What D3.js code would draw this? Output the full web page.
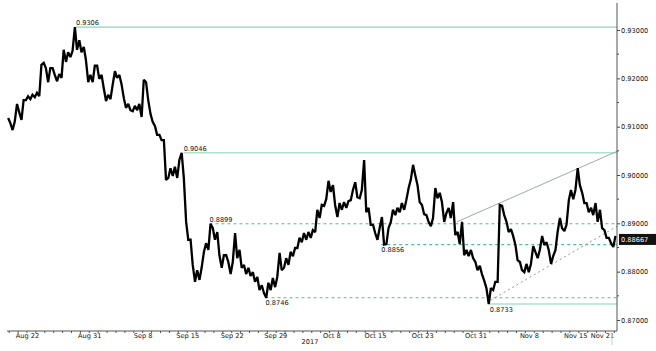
<!DOCTYPE html>
<html>
<head>
<meta charset="utf-8">
<script src="https://cdn.jsdelivr.net/npm/d3@7"></script>
<style>
  body { margin: 0; background: #fff; }
  svg { display: block; }
  text { font-family: "DejaVu Sans", Verdana, sans-serif; fill: #111; }
</style>
</head>
<body>
<div id="chart"></div>
<script>
// Sessions every half day, first one two days before Aug 22
const firstDay = -2;
const step = 0.5;

// High / low per session
const high = [
  .9118, .9110, .9147, .9155, .9163, .9166, .9170, .9228, .9232, .9221,
  .9221, .9209, .9259, .9254, .9257, .9306, .9279, .9265, .9207, .9226,
  .9226, .9207, .9166, .9186, .9215, .9207, .9159, .9147, .9143, .9147,
  .9197, .9192, .9126, .9101, .9083, .9072, .9014, .9017, .9031, .9046,
  .8903, .8866, .8803, .8808, .8859, .8899, .8890, .8882, .8834, .8834,
  .8820, .8880, .8845, .8814, .8808, .8799, .8789, .8772, .8777, .8787,
  .8789, .8839, .8828, .8841, .8849, .8870, .8880, .8882, .8886, .8928,
  .8938, .8950, .8988, .8979, .8942, .8944, .8946, .8969, .8985, .8969,
  .9031, .8932, .8897, .8890, .8913, .8890, .8928, .8932, .8942, .8948,
  .8990, .9021, .8979, .8938, .8917, .8911, .8973, .8963, .8921, .8932,
  .8944, .8882, .8903, .8845, .8845, .8820, .8812, .8781, .8766, .8779,
  .8938, .8936, .8903, .8888, .8855, .8820, .8816, .8816, .8853, .8845,
  .8874, .8861, .8832, .8882, .8911, .8897, .8969, .8969, .9014, .8963,
  .8942, .8932, .8942, .8928, .8886, .8870, .8874
];
const low = [
  .9108, .9093, .9130, .9114, .9155, .9157, .9161, .9163, .9221, .9192,
  .9207, .9194, .9201, .9234, .9244, .9259, .9254, .9238, .9192, .9192,
  .9199, .9180, .9153, .9157, .9201, .9188, .9139, .9134, .9132, .9134,
  .9120, .9155, .9110, .9083, .9072, .8990, .8994, .8998, .8994, .8994,
  .8866, .8814, .8779, .8783, .8841, .8845, .8866, .8834, .8808, .8820,
  .8795, .8828, .8808, .8795, .8791, .8779, .8762, .8756, .8746, .8762,
  .8768, .8803, .8808, .8814, .8832, .8849, .8861, .8866, .8870, .8882,
  .8911, .8936, .8965, .8938, .8913, .8928, .8932, .8948, .8954, .8952,
  .8923, .8897, .8880, .8866, .8856, .8857, .8903, .8917, .8923, .8928,
  .8973, .9000, .8944, .8919, .8903, .8894, .8952, .8944, .8903, .8911,
  .8876, .8857, .8834, .8832, .8828, .8803, .8795, .8766, .8733, .8762,
  .8779, .8917, .8882, .8874, .8824, .8803, .8799, .8799, .8841, .8828,
  .8855, .8845, .8816, .8845, .8890, .8884, .8948, .8950, .8979, .8942,
  .8923, .8917, .8903, .8890, .8870, .8859, .8851
];

// Horizontal levels
const levelValues = [0.9306, 0.9046, 0.8899, 0.8856, 0.8746, 0.8733];
const levelStart  = [5.5, 17.6, 20.5, 39.8, 26.8, 52.0];
const levelDashed = [false, false, true, true, true, false];
const levelBelow  = [false, false, false, true, true, true];

// Trend lines
const trendUpper = [[48.3, 0.8903], [66.3, 0.9049]];
const trendLower = [[52.1, 0.8741], [66.3, 0.8894]];

const lastPrice = 0.88667;

// Axis ticks
const tickDays   = [0, 7, 13, 18, 23, 27.9, 34.2, 39.1, 44.4, 50.4, 56.4, 61.6, 64.6];
const tickLabels = ['Aug 22', 'Aug 31', 'Sep 8', 'Sep 15', 'Sep 22', 'Sep 29',
                    'Oct 8', 'Oct 15', 'Oct 23', 'Oct 31', 'Nov 8', 'Nov 15', 'Nov 21'];
const priceTicks = [0.87, 0.88, 0.89, 0.90, 0.91, 0.92, 0.93];
const priceMinor = [0.875, 0.885, 0.895, 0.905, 0.915, 0.925];

const W = 656, H = 351;
const axisX = 617, axisY = 331;

const svg = d3.select('#chart').append('svg')
  .attr('width', W)
  .attr('height', H);

const x = d3.scaleLinear().domain([-2, 66]).range([9.2, 614.4]);
const y = d3.scaleLinear().domain([0.87, 0.93]).range([320, 30]);

// Level lines
levelValues.forEach((v, i) => {
  svg.append('line')
    .attr('x1', x(levelStart[i])).attr('x2', axisX)
    .attr('y1', y(v)).attr('y2', y(v))
    .attr('stroke', levelDashed[i] ? '#4fc09a' : '#ade0cf')
    .attr('stroke-width', levelDashed[i] ? 1.1 : 1.6)
    .attr('stroke-dasharray', levelDashed[i] ? '3,3' : null);
  svg.append('text')
    .attr('x', x(levelStart[i]))
    .attr('y', levelBelow[i] ? y(v) + 7.5 : y(v) - 2)
    .style('font-size', '6.6px')
    .text(v.toFixed(4));
});

// Trend lines
const tline = d3.line().x(d => x(d[0])).y(d => y(d[1]));
svg.append('path')
  .attr('d', tline(trendUpper))
  .attr('fill', 'none')
  .attr('stroke', '#9eaaa6')
  .attr('stroke-width', 1);
svg.append('path')
  .attr('d', tline(trendLower))
  .attr('fill', 'none')
  .attr('stroke', '#999')
  .attr('stroke-width', 1)
  .attr('stroke-dasharray', '2,3');

// Price path: zig-zag through each session's high and low
const pts = [];
high.forEach((h, i) => {
  const d = firstDay + i * step;
  const l = low[i];
  const mid = (h + l) / 2;
  const nextMid = i < high.length - 1 ? (high[i + 1] + low[i + 1]) / 2 : mid;
  const up = nextMid >= mid;
  pts.push([d - 0.12, up ? l : h]);
  pts.push([d + 0.12, up ? h : l]);
});
svg.append('path')
  .attr('d', tline(pts))
  .attr('fill', 'none')
  .attr('stroke', '#000')
  .attr('stroke-width', 2.3)
  .attr('stroke-linejoin', 'miter')
  .attr('stroke-miterlimit', 2);

// Right axis
const yAxis = svg.append('g')
  .attr('transform', `translate(${axisX},0)`)
  .call(d3.axisRight(y).tickValues(priceTicks).tickSize(3).tickPadding(1)
    .tickFormat(d3.format('.5f')));
yAxis.select('.domain').remove();
yAxis.selectAll('.tick line').attr('stroke', '#444');
yAxis.selectAll('.tick text')
  .style('font-size', '6.6px')
  .style('font-family', '"DejaVu Sans", Verdana, sans-serif')
  .attr('fill', '#222');
svg.append('g')
  .selectAll('line')
  .data(priceMinor)
  .enter()
  .append('line')
  .attr('x1', axisX).attr('x2', axisX + 2)
  .attr('y1', d => y(d)).attr('y2', d => y(d))
  .attr('stroke', '#444');
svg.append('line')
  .attr('x1', axisX).attr('x2', axisX)
  .attr('y1', 3).attr('y2', axisY)
  .attr('stroke', '#555');

// Last price tag
const lp = svg.append('g').attr('transform', `translate(${axisX + 2},${y(lastPrice)})`);
lp.append('rect')
  .attr('x', 0).attr('y', -5.5)
  .attr('width', 37).attr('height', 11)
  .attr('fill', '#111');
lp.append('text')
  .attr('x', 2).attr('y', 2.4)
  .style('font-size', '6.6px')
  .style('fill', '#fff')
  .text(lastPrice.toFixed(5));

// Bottom axis
const dailyTicks = d3.range(-2, 67, 1);
svg.append('g')
  .selectAll('line')
  .data(dailyTicks)
  .enter()
  .append('line')
  .attr('x1', d => x(d)).attr('x2', d => x(d))
  .attr('y1', axisY).attr('y2', axisY + 2)
  .attr('stroke', '#555');
const xAxis = svg.append('g')
  .attr('transform', `translate(0,${axisY})`)
  .call(d3.axisBottom(x).tickValues(tickDays).tickSize(0).tickPadding(2)
    .tickFormat((d, i) => tickLabels[i]));
xAxis.select('.domain').remove();
xAxis.selectAll('.tick text')
  .style('font-size', '6.6px')
  .style('font-family', '"DejaVu Sans", Verdana, sans-serif')
  .attr('fill', '#222');
svg.append('line')
  .attr('x1', 7).attr('x2', axisX)
  .attr('y1', axisY).attr('y2', axisY)
  .attr('stroke', '#555');
svg.append('text')
  .attr('x', 310).attr('y', 343.5)
  .attr('text-anchor', 'middle')
  .style('font-size', '6.6px')
  .text('2017');

// current session marker under the axis
svg.append('line')
  .attr('x1', 612).attr('x2', 612)
  .attr('y1', axisY + 2).attr('y2', 345)
  .attr('stroke', '#ccc');
</script>
</body>
</html>
